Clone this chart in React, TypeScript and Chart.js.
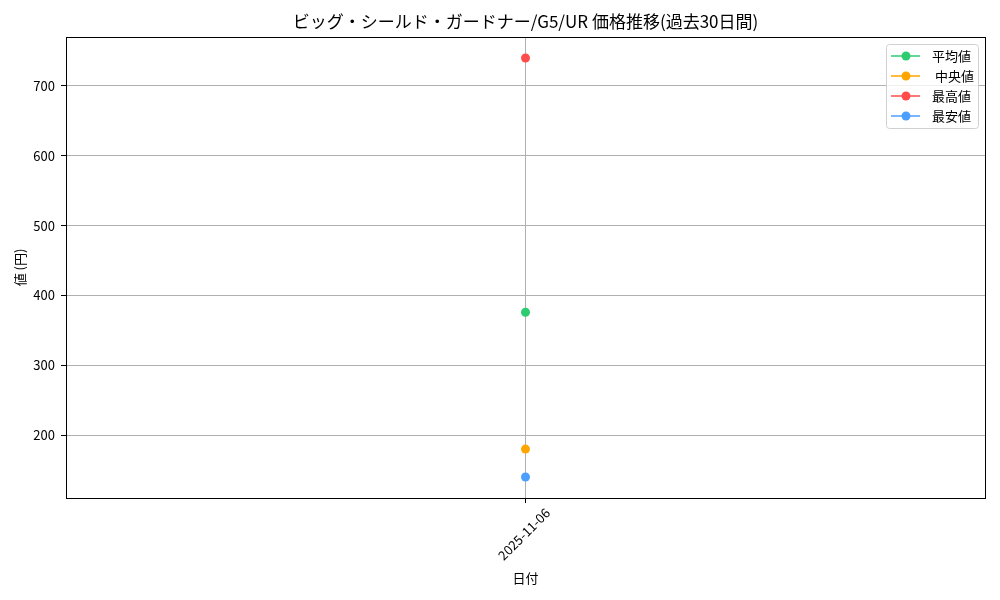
import { useEffect, useRef } from 'react';
import { Chart, registerables } from 'chart.js';
Chart.register(...registerables);

// data
const dates = ['2025-11-06'];
const avgPrice = [376];
const medianPrice = [180];
const maxPrice = [740];
const minPrice = [140];
const yTicks = [200, 300, 400, 500, 600, 700];

const TITLE = 'ビッグ・シールド・ガードナー/G5/UR 価格推移(過去30日間)';
const FONT = "'Noto Sans CJK JP', 'Noto Sans', sans-serif";

// matplotlib-ish frame, title and inner legend
const framePlugin = {
  id: 'mplFrame',
  afterDraw(chart: Chart) {
    const { ctx, chartArea: a } = chart;
    ctx.save();
    ctx.strokeStyle = '#000';
    ctx.lineWidth = 1;
    ctx.strokeRect(Math.round(a.left) + 0.5, Math.round(a.top) + 0.5, Math.round(a.right - a.left), Math.round(a.bottom - a.top));

    // title
    ctx.fillStyle = '#000';
    ctx.font = `17px ${FONT}`;
    ctx.textAlign = 'center';
    ctx.textBaseline = 'middle';
    ctx.fillText(TITLE, (a.left + a.right) / 2, 22);

    // legend
    const ds = chart.data.datasets;
    const bx = a.right - 99, by = a.top + 7, bw = 92, bh = 84;
    ctx.fillStyle = 'rgba(255,255,255,0.8)';
    ctx.strokeStyle = '#d0d0d0';
    ctx.beginPath();
    ctx.roundRect(bx + 0.5, by + 0.5, bw, bh, 3);
    ctx.fill();
    ctx.stroke();
    ctx.font = `13px ${FONT}`;
    ctx.textAlign = 'left';
    ds.forEach((d: any, i: number) => {
      const y = by + 12 + i * 20;
      ctx.strokeStyle = d.borderColor;
      ctx.lineWidth = 1.5;
      ctx.beginPath();
      ctx.moveTo(bx + 5, y);
      ctx.lineTo(bx + 34, y);
      ctx.stroke();
      ctx.fillStyle = d.borderColor;
      ctx.beginPath();
      ctx.arc(bx + 20, y, 4.5, 0, Math.PI * 2);
      ctx.fill();
      ctx.fillStyle = '#000';
      ctx.fillText(d.label, bx + 46, y);
    });
    ctx.restore();
  },
};

export default function App() {
  const ref = useRef<HTMLCanvasElement>(null);

  useEffect(() => {
    document.body.style.margin = '0';
    const canvas = ref.current;
    if (!canvas) return;

    const mk = (label: string, data: number[], color: string) => ({
      label,
      data,
      borderColor: color,
      backgroundColor: color,
      borderWidth: 1.5,
      pointRadius: 4.5,
      pointHoverRadius: 4.5,
      pointBorderWidth: 0,
    });

    const chart = new Chart(canvas, {
      type: 'line',
      data: {
        labels: dates,
        datasets: [
          mk('平均値', avgPrice, '#2ecc71'),
          mk(' 中央値', medianPrice, '#ffa500'),
          mk('最高値', maxPrice, '#ff4d4d'),
          mk('最安値', minPrice, '#4d9fff'),
        ],
      },
      options: {
        responsive: false,
        animation: false,
        layout: { padding: { top: 37, right: 15, left: 0, bottom: 0 } },
        plugins: {
          legend: { display: false },
          title: { display: false },
          tooltip: { enabled: false },
        },
        scales: {
          x: {
            type: 'category',
            offset: true,
            border: { display: false },
            grid: { color: '#b0b0b0', lineWidth: 1, tickColor: '#000', tickLength: 5, offset: false },
            ticks: {
              color: '#000',
              font: { family: FONT, size: 13 },
              minRotation: 45,
              maxRotation: 45,
              autoSkip: false,
              padding: 2,
              labelOffset: 22,
            },
            title: { display: true, text: '日付', color: '#000', font: { family: FONT, size: 13 }, padding: { top: 0, bottom: 14 } },
            afterFit: (s: any) => { s.height = 102; },
          },
          y: {
            min: 110,
            max: 770,
            border: { display: false },
            grid: { color: '#b0b0b0', lineWidth: 1, tickColor: '#000', tickLength: 5 },
            ticks: { color: '#000', font: { family: FONT, size: 13 }, padding: 6 },
            afterBuildTicks: (s: any) => { s.ticks = yTicks.map(v => ({ value: v })); },
            title: { display: true, text: '値 (円)', color: '#000', font: { family: FONT, size: 13 }, padding: { top: 12, bottom: 0 } },
            afterFit: (s: any) => { s.width = 66; },
          },
        },
      },
      plugins: [framePlugin],
    });

    return () => { chart.destroy(); };
  }, []);

  return (
    <div style={{ width: 1000, height: 600, background: '#fff' }}>
      <canvas ref={ref} width={1000} height={600} />
    </div>
  );
}
